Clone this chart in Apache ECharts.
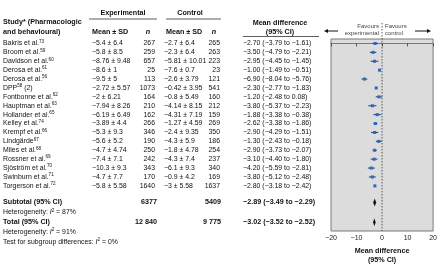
<!DOCTYPE html>
<html>
<head>
<meta charset="utf-8">
<script src="https://cdn.jsdelivr.net/npm/echarts@6/dist/echarts.min.js"></script>
<style>
  html, body { margin: 0; padding: 0; background: #fff; }
  #chart { width: 440px; height: 272px; }
</style>
</head>
<body>
<div id="chart"></div>
<script>
// Study rows
const studies = ['Bakris et al.', 'Broom et al.', 'Davidson et al.', 'Derosa et al.', 'Derosa et al.',
  'DPP', 'Fontbonne et al.', 'Hauptman et al.', 'Hollander et al.', 'Kelley et al.', 'Krempf et al.',
  'Lindgärde', 'Miles et al.', 'Rossner et al.', 'Sjöström et al.', 'Swinburn et al.', 'Torgerson et al.'];
const refs = ['73', '59', '60', '61', '56', '58', '62', '63', '65', '74', '66', '67', '68', '69', '70', '71', '72'];
const studySuffix = ['', '', '', '', '', ' (2)', '', '', '', '', '', '', '', '', '', '', ''];
const expMeanSd = ['−5.4 ± 6.4', '−5.8 ± 8.5', '−8.76 ± 9.48', '−8.6 ± 1', '−9.5 ± 5', '−2.72 ± 5.57',
  '−2 ± 6.21', '−7.94 ± 8.26', '−6.19 ± 6.49', '−3.89 ± 4.4', '−5.3 ± 9.3', '−5.6 ± 5.2',
  '−4.7 ± 4.74', '−7.4 ± 7.1', '−10.3 ± 9.3', '−4.7 ± 7.7', '−5.8 ± 5.58'];
const expN = [267, 259, 657, 25, 113, 1073, 164, 210, 162, 266, 346, 190, 250, 242, 343, 170, 1640];
const ctlMeanSd = ['−2.7 ± 6.4', '−2.3 ± 6.4', '−5.81 ± 10.01', '−7.6 ± 0.7', '−2.6 ± 3.79', '−0.42 ± 3.95',
  '−0.8 ± 5.49', '−4.14 ± 8.15', '−4.31 ± 7.19', '−1.27 ± 4.59', '−2.4 ± 9.35', '−4.3 ± 5.9',
  '−1.8 ± 4.78', '−4.3 ± 7.4', '−6.1 ± 9.3', '−0.9 ± 4.2', '−3 ± 5.58'];
const ctlN = [265, 263, 223, 23, 121, 541, 160, 212, 159, 269, 350, 186, 254, 237, 340, 169, 1637];
const md = [-2.70, -3.50, -2.95, -1.00, -6.90, -2.30, -1.20, -3.80, -1.88, -2.62, -2.90, -1.30, -2.90, -3.10, -4.20, -3.80, -2.80];
const mdLo = [-3.79, -4.79, -4.45, -1.49, -8.04, -2.77, -2.48, -5.37, -3.38, -3.38, -4.29, -2.43, -3.73, -4.40, -5.59, -5.12, -3.18];
const mdHi = [-1.61, -2.21, -1.45, -0.51, -5.76, -1.83, 0.08, -2.23, -0.38, -1.86, -1.51, -0.18, -2.07, -1.80, -2.81, -2.48, -2.42];

// Pooled rows
const summaryLabels = ['Subtotal (95% CI)', 'Total (95% CI)'];
const summaryExpN = ['6377', '12 840'];
const summaryCtlN = ['5409', '9 775'];
const summaryMd = [-2.89, -3.02];
const summaryLo = [-3.49, -3.52];
const summaryHi = [-2.29, -2.52];
const heterogeneityI2 = [87, 91];
const subgroupI2 = 0;

const xTicks = [-20, -10, 0, 10, 20];

// layout (row index units on the hidden y axis)
const summaryRow = [17.87, 20.08];
const hetRow = [19.0, 21.2];
const testRow = 22.3;
const FONT = '"Liberation Sans", Arial, sans-serif';
const FS = 6.9;

const minus = s => String(s).replace(/-/g, '−');
const fmt = v => minus(v.toFixed(2));
const mdText = (m, l, h) => fmt(m) + ' (' + fmt(l) + ' to ' + fmt(h) + ')';

const RICH = {
  n: { fontFamily: FONT, fontSize: FS, fill: '#111', lineHeight: 9 },
  s: { fontFamily: FONT, fontSize: 4.6, fill: '#111', verticalAlign: 'top', lineHeight: 9 },
  i: { fontFamily: FONT, fontSize: FS, fill: '#111', fontStyle: 'italic', lineHeight: 9 }
};

function txt(x, y, text, opts) {
  opts = opts || {};
  return {
    type: 'text',
    style: {
      x: x, y: y, text: text,
      align: opts.align || 'left', verticalAlign: 'middle',
      fontFamily: FONT, fontSize: opts.size || FS,
      fontWeight: opts.bold ? 'bold' : 'normal',
      fontStyle: opts.italic ? 'italic' : 'normal',
      fill: opts.color || '#111',
      rich: opts.rich
    }
  };
}

const chart = echarts.init(document.getElementById('chart'), null, { renderer: 'canvas' });

const option = {
  backgroundColor: '#fff',
  animation: false,
  grid: {
    left: 331, right: 6, top: 39, bottom: 41,
    show: true, backgroundColor: '#dcdcdc', borderColor: '#7a7a7a', borderWidth: 1
  },
  xAxis: {
    type: 'value', min: -20, max: 20, interval: 10,
    axisLine: { show: true, lineStyle: { color: '#7a7a7a' } },
    axisTick: { show: true, length: 3, lineStyle: { color: '#555' } },
    axisLabel: {
      fontFamily: FONT, fontSize: 7, color: '#222', margin: 4,
      formatter: v => xTicks.includes(v) ? minus(v) : ''
    },
    splitLine: { show: false },
    name: 'Mean difference\n(95% CI)',
    nameLocation: 'middle', nameGap: 15,
    nameTextStyle: { fontFamily: FONT, fontSize: 7.2, fontWeight: 'bold', color: '#111', lineHeight: 8.5, verticalAlign: 'top' }
  },
  yAxis: { type: 'value', show: false, inverse: true, min: -0.5, max: 21.07 },
  graphic: [
    // table header
    txt(3, 22, 'Study* (Pharmacologic', { bold: true, size: 7.2 }),
    txt(3, 32, 'and behavioural)', { bold: true, size: 7.2 }),
    txt(123, 13, 'Experimental', { bold: true, size: 7.2, align: 'center' }),
    { type: 'line', shape: { x1: 89, y1: 19, x2: 157, y2: 19 }, style: { stroke: '#333', lineWidth: 0.8 } },
    txt(190, 13, 'Control', { bold: true, size: 7.2, align: 'center' }),
    { type: 'line', shape: { x1: 166, y1: 19, x2: 221, y2: 19 }, style: { stroke: '#333', lineWidth: 0.8 } },
    txt(92, 32, 'Mean ± SD', { bold: true, size: 7.2 }),
    txt(148, 32, 'n', { italic: true, bold: true, size: 7.2, align: 'center' }),
    txt(166, 32, 'Mean ± SD', { bold: true, size: 7.2 }),
    txt(214, 32, 'n', { italic: true, bold: true, size: 7.2, align: 'center' }),
    txt(280, 23, 'Mean difference', { bold: true, size: 7.2, align: 'center' }),
    txt(280, 32, '(95% CI)', { bold: true, size: 7.2, align: 'center' }),
    { type: 'line', shape: { x1: 243, y1: 36.5, x2: 319, y2: 36.5 }, style: { stroke: '#333', lineWidth: 0.8 } },
    // favours labels + arrows
    txt(379, 26, 'Favours', { size: 6, align: 'right', color: '#444' }),
    txt(379, 33, 'experimental', { size: 6, align: 'right', color: '#444' }),
    txt(385, 26, 'Favours', { size: 6, color: '#444' }),
    txt(385, 33, 'control', { size: 6, color: '#444' }),
    { type: 'line', shape: { x1: 327, y1: 31, x2: 338, y2: 31 }, style: { stroke: '#111', lineWidth: 1 } },
    { type: 'polygon', shape: { points: [[324, 31], [328, 29], [328, 33]] }, style: { fill: '#111' } },
    { type: 'line', shape: { x1: 415, y1: 31, x2: 428, y2: 31 }, style: { stroke: '#111', lineWidth: 1 } },
    { type: 'polygon', shape: { points: [[431, 31], [427, 29], [427, 33]] }, style: { fill: '#111' } }
  ],
  series: [
    {
      // zero reference line
      type: 'custom', silent: true, z: 3,
      data: [[0]],
      renderItem: (params, api) => {
        const a = api.coord([0, -2.3]);
        const b = api.coord([0, 21.07]);
        return { type: 'line', shape: { x1: a[0], y1: a[1], x2: b[0], y2: b[1] },
          style: { stroke: '#333', lineWidth: 0.8, lineDash: [1.5, 1.5] } };
      }
    },
    {
      // study table rows
      type: 'custom', silent: true,
      data: studies.map((s, i) => [0, i]),
      renderItem: (params, api) => {
        const i = params.dataIndex;
        const y = api.coord([0, i])[1];
        return {
          type: 'group',
          children: [
            txt(3, y, '{n|' + studies[i] + '}{s|' + refs[i] + '}{n|' + studySuffix[i] + '}', { rich: RICH }),
            txt(92, y, expMeanSd[i]),
            txt(155, y, String(expN[i]), { align: 'right' }),
            txt(164, y, ctlMeanSd[i]),
            txt(220, y, String(ctlN[i]), { align: 'right' }),
            txt(243, y, mdText(md[i], mdLo[i], mdHi[i]))
          ]
        };
      }
    },
    {
      // pooled table rows
      type: 'custom', silent: true,
      data: summaryLabels.map((s, k) => [0, summaryRow[k]]),
      renderItem: (params, api) => {
        const k = params.dataIndex;
        const y = api.coord([0, summaryRow[k]])[1];
        const yh = api.coord([0, hetRow[k]])[1];
        const kids = [
          txt(3, y, summaryLabels[k], { bold: true, size: 7.2 }),
          txt(157, y, summaryExpN[k], { bold: true, size: 7.2, align: 'right' }),
          txt(221, y, summaryCtlN[k], { bold: true, size: 7.2, align: 'right' }),
          txt(243, y, mdText(summaryMd[k], summaryLo[k], summaryHi[k]), { bold: true, size: 7.2 }),
          txt(3, yh, '{n|Heterogeneity: }{i|I}{s|2}{n| = ' + heterogeneityI2[k] + '%}', { rich: RICH })
        ];
        if (k === 1) {
          const yt = api.coord([0, testRow])[1];
          kids.push(txt(3, yt, '{n|Test for subgroup differences: }{i|I}{s|2}{n| = ' + subgroupI2 + '%}', { rich: RICH }));
        }
        return { type: 'group', children: kids };
      }
    },
    {
      // study estimates with CI
      type: 'custom', z: 4,
      data: md.map((m, i) => [m, i, mdLo[i], mdHi[i]]),
      renderItem: (params, api) => {
        const c = api.coord([api.value(0), api.value(1)]);
        const l = api.coord([api.value(2), api.value(1)]);
        const h = api.coord([api.value(3), api.value(1)]);
        const sz = 3;
        return {
          type: 'group',
          children: [
            { type: 'line', shape: { x1: l[0], y1: l[1], x2: h[0], y2: h[1] }, style: { stroke: '#1f3d6e', lineWidth: 1 } },
            { type: 'rect', shape: { x: c[0] - sz / 2, y: c[1] - sz / 2, width: sz, height: sz }, style: { fill: '#2a66c2' } }
          ]
        };
      }
    },
    {
      // pooled diamonds
      type: 'custom', z: 4,
      data: summaryMd.map((m, k) => [m, summaryRow[k], summaryLo[k], summaryHi[k]]),
      renderItem: (params, api) => {
        const c = api.coord([api.value(0), api.value(1)]);
        const l = api.coord([api.value(2), api.value(1)]);
        const h = api.coord([api.value(3), api.value(1)]);
        return {
          type: 'polygon',
          shape: { points: [[l[0], c[1]], [c[0], c[1] - 4], [h[0], c[1]], [c[0], c[1] + 4]] },
          style: { fill: '#111' }
        };
      }
    }
  ]
};

chart.setOption(option);
</script>
</body>
</html>
